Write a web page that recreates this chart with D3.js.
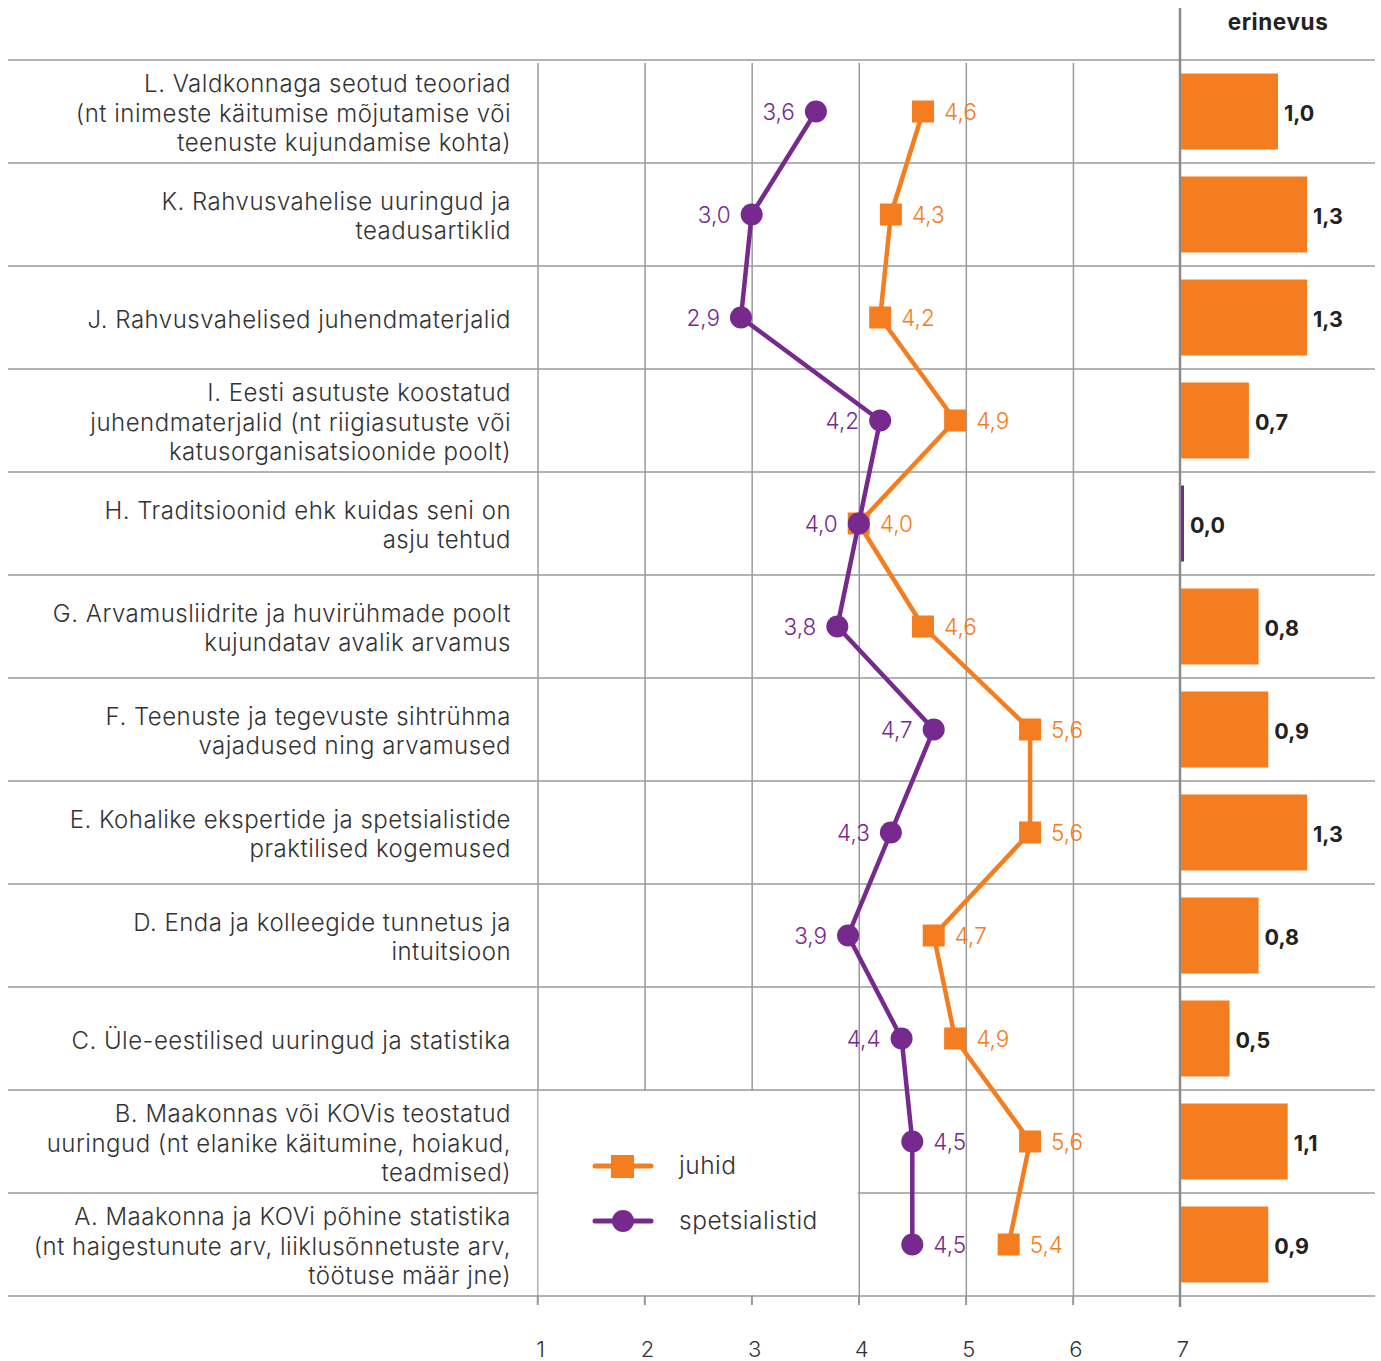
<!DOCTYPE html>
<html>
<head>
<meta charset="utf-8">
<script src="https://cdn.jsdelivr.net/npm/d3@7"></script>
<style>
  html, body { margin: 0; padding: 0; background: #fff; }
  svg { display: block; }
  text { font-family: "Inter", "Noto Sans", sans-serif; }
</style>
</head>
<body>
<svg id="chart" width="1381" height="1361"></svg>
<script>
// Row labels, top to bottom (each entry is a list of lines)
const categories = [
  ["L. Valdkonnaga seotud teooriad", "(nt inimeste käitumise mõjutamise või", "teenuste kujundamise kohta)"],
  ["K. Rahvusvahelise uuringud ja", "teadusartiklid"],
  ["J. Rahvusvahelised juhendmaterjalid"],
  ["I. Eesti asutuste koostatud", "juhendmaterjalid (nt riigiasutuste või", "katusorganisatsioonide poolt)"],
  ["H. Traditsioonid ehk kuidas seni on", "asju tehtud"],
  ["G. Arvamusliidrite ja huvirühmade poolt", "kujundatav avalik arvamus"],
  ["F. Teenuste ja tegevuste sihtrühma", "vajadused ning arvamused"],
  ["E. Kohalike ekspertide ja spetsialistide", "praktilised kogemused"],
  ["D. Enda ja kolleegide tunnetus ja", "intuitsioon"],
  ["C. Üle-eestilised uuringud ja statistika"],
  ["B. Maakonnas või KOVis teostatud", "uuringud (nt elanike käitumine, hoiakud,", "teadmised)"],
  ["A. Maakonna ja KOVi põhine statistika", "(nt haigestunute arv, liiklusõnnetuste arv,", "töötuse määr jne)"]
];

const juhid =         [4.6, 4.3, 4.2, 4.9, 4.0, 4.6, 5.6, 5.6, 4.7, 4.9, 5.6, 5.4];
const spetsialistid = [3.6, 3.0, 2.9, 4.2, 4.0, 3.8, 4.7, 4.3, 3.9, 4.4, 4.5, 4.5];
const erinevus =      [1.0, 1.3, 1.3, 0.7, 0.0, 0.8, 0.9, 1.3, 0.8, 0.5, 1.1, 0.9];
// side on which the spetsialistid value label is placed
const purpleLabelSide = ["left","left","left","left","left","left","left","left","left","left","right","right"];

const xTicks = [1, 2, 3, 4, 5, 6, 7];
const seriesNames = ["juhid", "spetsialistid"];
const diffTitle = "erinevus";

const ORANGE = "#F47D20";
const PURPLE = "#762A8E";
const GRID = "#9a9a9a";
const TEXT = "#333333";
const fmt = v => v.toFixed(1).replace(".", ",");

const svg = d3.select("#chart");
const idx = d3.range(categories.length);

const x = d3.scaleLinear().domain([1, 7]).range([537.5, 1180]);
const y = d3.scaleBand().domain(idx).range([60, 1296]);
const yc = i => y(i) + y.bandwidth() / 2;
const barW = d3.scaleLinear().domain([0, 1]).range([0, 97]);

// horizontal row separators
const rowLines = [60, ...idx.map(i => y(i) + y.bandwidth())];
svg.append("g").selectAll("line").data(rowLines).join("line")
  .attr("x1", 8).attr("x2", 1375)
  .attr("y1", d => d).attr("y2", d => d)
  .attr("stroke", GRID).attr("stroke-width", 1.5);

// vertical gridlines via a bottom axis with full-height ticks
const gridAxis = d3.axisBottom(x).tickValues(xTicks.slice(0, -1)).tickSize(-(1305 - 63)).tickFormat("");
const gGrid = svg.append("g").attr("transform", "translate(0,1305)").call(gridAxis);
gGrid.select(".domain").remove();
gGrid.selectAll("line").attr("stroke", GRID).attr("stroke-width", 1.5);

// legend box (covers the lower-left gridlines)
svg.append("rect")
  .attr("x", x(1) + 1).attr("y", y(10) + 1)
  .attr("width", x(4) - x(1) - 2).attr("height", 1296 - y(10) - 2)
  .attr("fill", "#fff");
// ticks below the bottom line
svg.append("g").selectAll("line").data(xTicks.slice(0, -1)).join("line")
  .attr("x1", d => x(d)).attr("x2", d => x(d))
  .attr("y1", 1296).attr("y2", 1305)
  .attr("stroke", GRID).attr("stroke-width", 1.5);

// the 7-line separating the difference column
svg.append("line")
  .attr("x1", x(7)).attr("x2", x(7)).attr("y1", 8).attr("y2", 1307)
  .attr("stroke", "#8a8a8a").attr("stroke-width", 2.5);

// tick labels
svg.append("g").selectAll("text").data(xTicks).join("text")
  .attr("x", d => x(d) + 3).attr("y", 1357)
  .attr("text-anchor", "middle")
  .attr("font-size", 22).attr("font-weight", 300).attr("fill", TEXT)
  .text(d => d);

// category labels
const lineH = 29.8;
svg.append("g").selectAll("text").data(idx).join("text")
  .attr("text-anchor", "end")
  .attr("font-size", 24).attr("font-weight", 300).attr("fill", TEXT)
  .attr("letter-spacing", 0.5)
  .each(function (i) {
    const lines = categories[i];
    const t = d3.select(this);
    const y0 = yc(i) - (lines.length - 1) * lineH / 2 + 10;
    lines.forEach((ln, k) => {
      t.append("tspan").attr("x", 511).attr("y", y0 + k * lineH).text(ln);
    });
  });

// lines
const line = d3.line().x(d => x(d[0])).y(d => d[1]);
svg.append("path")
  .attr("d", line(juhid.map((v, i) => [v, yc(i)])))
  .attr("fill", "none").attr("stroke", ORANGE).attr("stroke-width", 4.5).attr("stroke-linejoin", "round");
svg.append("g").selectAll("rect").data(idx).join("rect")
  .attr("x", i => x(juhid[i]) - 11).attr("y", i => yc(i) - 11)
  .attr("width", 22).attr("height", 22).attr("fill", ORANGE);

svg.append("path")
  .attr("d", line(spetsialistid.map((v, i) => [v, yc(i)])))
  .attr("fill", "none").attr("stroke", PURPLE).attr("stroke-width", 4.5).attr("stroke-linejoin", "round");
svg.append("g").selectAll("circle").data(idx).join("circle")
  .attr("cx", i => x(spetsialistid[i])).attr("cy", i => yc(i))
  .attr("r", 11).attr("fill", PURPLE);

// value labels
svg.append("g").selectAll("text").data(idx).join("text")
  .attr("x", i => x(juhid[i]) + 21).attr("y", i => yc(i) + 8)
  .attr("font-size", 22.5).attr("font-weight", 300).attr("fill", ORANGE)
  .text(i => fmt(juhid[i]));
svg.append("g").selectAll("text").data(idx).join("text")
  .attr("x", i => purpleLabelSide[i] === "left" ? x(spetsialistid[i]) - 21 : x(spetsialistid[i]) + 21)
  .attr("text-anchor", i => purpleLabelSide[i] === "left" ? "end" : "start")
  .attr("y", i => yc(i) + 8)
  .attr("font-size", 22.5).attr("font-weight", 300).attr("fill", PURPLE)
  .text(i => fmt(spetsialistid[i]));

// difference bars
svg.append("text")
  .attr("x", 1278).attr("y", 30).attr("text-anchor", "middle")
  .attr("font-size", 22.5).attr("font-weight", 700).attr("fill", "#222")
  .attr("letter-spacing", 0.6)
  .text(diffTitle);
svg.append("g").selectAll("rect").data(idx).join("rect")
  .attr("x", x(7) + 1).attr("y", i => yc(i) - 38)
  .attr("width", i => Math.max(3, barW(erinevus[i])))
  .attr("height", 76)
  .attr("fill", i => erinevus[i] > 0 ? ORANGE : PURPLE);
svg.append("g").selectAll("text").data(idx).join("text")
  .attr("x", i => x(7) + 1 + Math.max(3, barW(erinevus[i])) + 6)
  .attr("y", i => yc(i) + 9)
  .attr("font-size", 21.5).attr("font-weight", 700).attr("fill", "#222")
  .text(i => fmt(erinevus[i]));

// legend
const legend = svg.append("g");
const legendItems = [
  { name: seriesNames[0], color: ORANGE, shape: "square", y: 1166 },
  { name: seriesNames[1], color: PURPLE, shape: "circle", y: 1221 }
];
legendItems.forEach(it => {
  legend.append("line").attr("x1", 595).attr("x2", 651).attr("y1", it.y).attr("y2", it.y)
    .attr("stroke", it.color).attr("stroke-width", 5).attr("stroke-linecap", "round");
  if (it.shape === "square") {
    legend.append("rect").attr("x", 611).attr("y", it.y - 11).attr("width", 23).attr("height", 23).attr("fill", it.color);
  } else {
    legend.append("circle").attr("cx", 623).attr("cy", it.y).attr("r", 11).attr("fill", it.color);
  }
  legend.append("text").attr("x", 679).attr("y", it.y + 8)
    .attr("font-size", 24.5).attr("font-weight", 300).attr("fill", TEXT)
    .attr("letter-spacing", 0.5).text(it.name);
});
</script>
</body>
</html>
